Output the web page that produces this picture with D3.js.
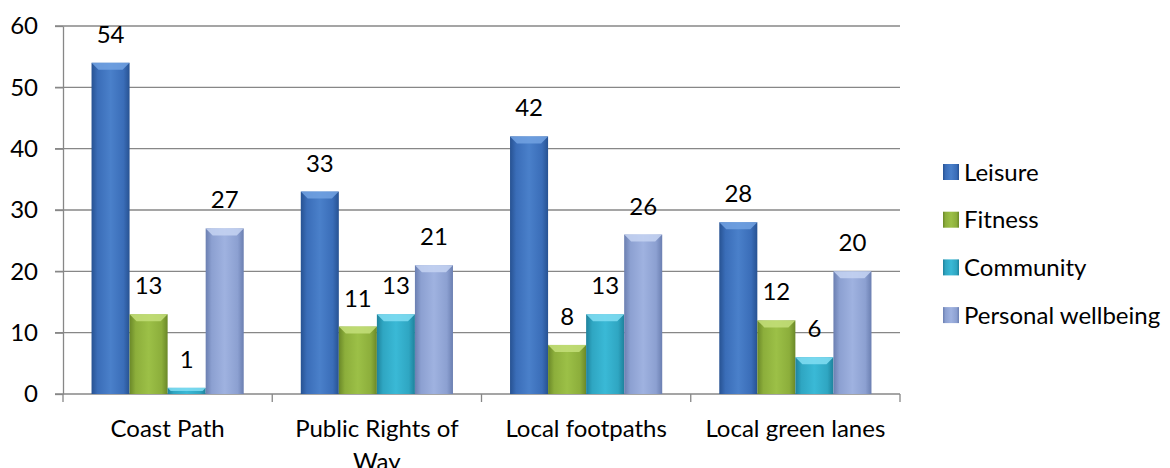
<!DOCTYPE html>
<meta charset="utf-8">
<style>
body { margin: 0; background: #fff; }
svg text { font-family: Lato, "Open Sans", sans-serif; fill: #000; }
.grid line { stroke: #878787; stroke-width: 1.3; }
.axis path, .axis line { stroke: #878787; stroke-width: 1.3; fill: none; }
</style>
<svg width="1170" height="468"></svg>
<script src="https://d3js.org/d3.v7.min.js"></script>
<script>

var categories = ["Coast Path", "Public Rights of Way", "Local footpaths", "Local green lanes"];
var series = ["Leisure", "Fitness", "Community", "Personal wellbeing"];
var leisure = [54, 33, 42, 28];
var fitness = [13, 11, 8, 12];
var community = [1, 13, 13, 6];
var wellbeing = [27, 21, 26, 20];
var yTicks = [0, 10, 20, 30, 40, 50, 60];

// base, edge (dark), centre (light), bevel top
var colors = {
  "Leisure":            ["#3a6db8", "#275292", "#4a80ca", "#72a2e2"],
  "Fitness":            ["#8cae3b", "#6a8828", "#9cc047", "#c4df7a"],
  "Community":          ["#2fa6c2", "#1e829c", "#3ab9d6", "#82def3"],
  "Personal wellbeing": ["#8ca0d1", "#6b7fb1", "#9fb2e0", "#c6d4f2"]
};

var values = [leisure, fitness, community, wellbeing];
var data = categories.map(function(c, i) {
  return { cat: c, vals: series.map(function(s, j) { return { s: s, v: values[j][i] }; }) };
});

var svg = d3.select("svg"),
    fs = 24;

var x = d3.scaleBand().domain(categories).range([63, 900]);
var xi = d3.scaleBand().domain(series).range([0, x.bandwidth()]).paddingOuter(0.75);
var y = d3.scaleLinear().domain([0, 60]).range([394, 26]);

var defs = svg.append("defs");
series.forEach(function(s, i) {
  var g = defs.append("linearGradient").attr("id", "g" + i)
    .attr("x1", 0).attr("x2", 1).attr("y1", 0).attr("y2", 0);
  g.append("stop").attr("offset", "0%").attr("stop-color", colors[s][1]);
  g.append("stop").attr("offset", "16%").attr("stop-color", colors[s][0]);
  g.append("stop").attr("offset", "50%").attr("stop-color", colors[s][2]);
  g.append("stop").attr("offset", "84%").attr("stop-color", colors[s][0]);
  g.append("stop").attr("offset", "100%").attr("stop-color", colors[s][1]);
});

// gridlines
svg.append("g").attr("class", "grid")
  .selectAll("line").data(yTicks.slice(1)).enter().append("line")
  .attr("x1", 55).attr("x2", 900)
  .attr("y1", function(d) { return y(d); }).attr("y2", function(d) { return y(d); });

// y axis
var yAxis = svg.append("g").attr("class", "axis")
  .attr("transform", "translate(63,0)")
  .call(d3.axisLeft(y).tickValues(yTicks).tickSize(8).tickSizeOuter(0).tickPadding(17));
yAxis.selectAll("text").style("font-size", fs + "px");

// x axis
var bounds = [63].concat(categories.map(function(c) { return x(c) + x.bandwidth(); }));
var xAxis = svg.append("g").attr("class", "axis");
xAxis.append("line").attr("x1", 55).attr("x2", 900).attr("y1", y(0)).attr("y2", y(0));
xAxis.selectAll(".tk").data(bounds).enter().append("line")
  .attr("x1", function(d) { return d; }).attr("x2", function(d) { return d; })
  .attr("y1", y(0)).attr("y2", y(0) + 8);

// bars
var groups = svg.selectAll(".cat").data(data).enter().append("g")
  .attr("transform", function(d) { return "translate(" + x(d.cat) + ",0)"; });

var bars = groups.selectAll(".bar").data(function(d) { return d.vals; }).enter().append("g");

bars.append("rect")
  .attr("x", function(d) { return xi(d.s); })
  .attr("y", function(d) { return y(d.v); })
  .attr("width", xi.bandwidth())
  .attr("height", function(d) { return y(0) - y(d.v); })
  .attr("fill", function(d) { return "url(#g" + series.indexOf(d.s) + ")"; });

// bevelled top
bars.append("path")
  .attr("fill", function(d) { return colors[d.s][3]; })
  .attr("opacity", 0.85)
  .attr("d", function(d) {
    var x0 = xi(d.s), w = xi.bandwidth(), t = y(d.v),
        b = Math.min(7, (y(0) - t) / 2);
    return "M" + x0 + "," + t + "H" + (x0 + w) + "L" + (x0 + w - b) + "," + (t + b) +
      "H" + (x0 + b) + "Z";
  });

bars.append("text")
  .attr("x", function(d) { return xi(d.s) + xi.bandwidth() / 2; })
  .attr("y", function(d) { return y(d.v) - 20; })
  .attr("text-anchor", "middle")
  .style("font-size", fs + "px")
  .text(function(d) { return d.v; });

// category labels, wrapped
groups.append("text")
  .attr("text-anchor", "middle")
  .style("font-size", fs + "px")
  .attr("x", x.bandwidth() / 2)
  .attr("y", 437)
  .each(function(d) {
    var t = d3.select(this), words = d.cat.split(" "), line = [], lines = [];
    words.forEach(function(w) {
      line.push(w);
      t.text(line.join(" "));
      if (t.node().getComputedTextLength() > 195 && line.length > 1) {
        line.pop(); lines.push(line.join(" ")); line = [w];
      }
    });
    lines.push(line.join(" "));
    t.text(null);
    lines.forEach(function(l, k) {
      t.append("tspan").attr("x", x.bandwidth() / 2).attr("dy", k ? 33 : 0).text(l);
    });
  });

// legend
var legend = svg.selectAll(".legend").data(series).enter().append("g")
  .attr("transform", function(d, i) { return "translate(943," + (172 + i * 47.7) + ")"; });

legend.append("rect")
  .attr("x", 0).attr("y", -8).attr("width", 16).attr("height", 16)
  .attr("fill", function(d, i) { return "url(#g" + i + ")"; });

legend.append("text")
  .attr("x", 21).attr("y", 8.5)
  .style("font-size", fs + "px")
  .text(function(d) { return d; });

</script>
